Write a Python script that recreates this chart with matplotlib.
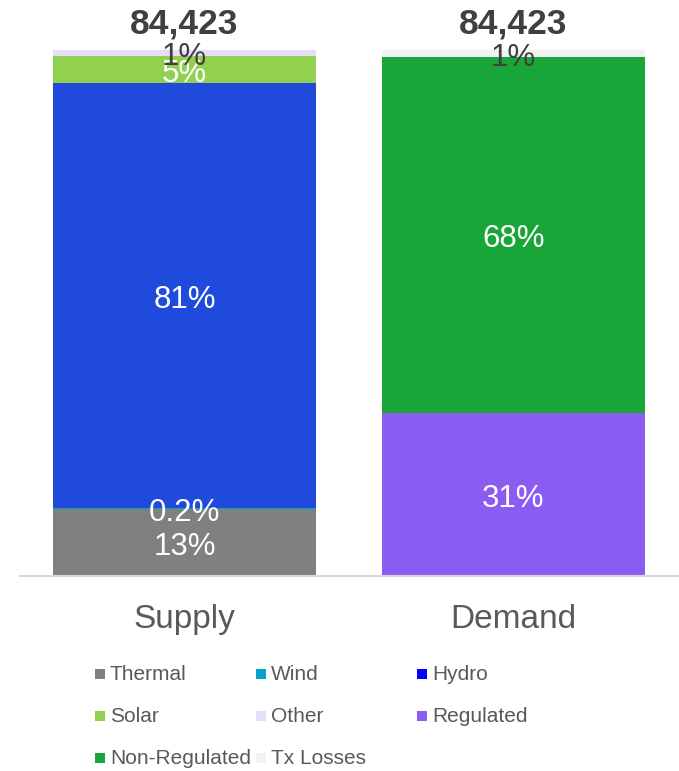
import matplotlib
matplotlib.use("Agg")
import matplotlib.pyplot as plt
from matplotlib.patches import Rectangle
import numpy as np

plt.rcParams['font.family'] = ['Liberation Sans', 'DejaVu Sans']

# data (MW-ish)
categories = ["Supply", "Demand"]
series_names = ["Thermal", "Wind", "Hydro", "Solar", "Other",
                "Regulated", "Non-Regulated", "Tx Losses"]
supply_values = [10753, 169, 68155, 4333, 1013, 0, 0, 0]
demand_values = [0, 0, 0, 0, 0, 26160, 57140, 1123]
pct_labels_supply = ["13%", "0.2%", "81%", "5%", "1%", "", "", ""]
pct_labels_demand = ["", "", "", "", "", "31%", "68%", "1%"]
totals = ["84,423", "84,423"]

bar_colors = ["#808080", "#0AA0C8", "#1F4ADB", "#92D050", "#E8DDF8",
              "#8B5CF1", "#17A637", "#F2F2F2"]
legend_colors = ["#808080", "#0AA0C8", "#0000FF", "#92D050", "#E8DDF8",
                 "#8B5CF1", "#17A637", "#F2F2F2"]
label_colors = ["white", "white", "white", "white", "#404040",
                "white", "white", "#404040"]

W, H = 679, 771
fig = plt.figure(figsize=(W / 100, H / 100), dpi=100)
ax = fig.add_axes([20 / W, (H - 576) / H, 658 / W, (576 - 10) / H])

x = np.arange(len(categories))
values = np.array([supply_values, demand_values]).T  # series x category
labels = [pct_labels_supply, pct_labels_demand]
bottoms = np.zeros(len(categories))
for i, name in enumerate(series_names):
    vals = values[i]
    ax.bar(x, vals, width=0.8, bottom=bottoms, color=bar_colors[i], linewidth=0)
    for j in range(len(categories)):
        if vals[j] > 0 and labels[j][i]:
            ax.annotate(labels[j][i], (x[j], bottoms[j] + vals[j] / 2),
                        xytext=(0, -3), textcoords="offset points",
                        ha="center", va="center", fontsize=22.5,
                        color=label_colors[i])
    bottoms += vals

for j in range(len(categories)):
    ax.annotate(totals[j], (x[j], bottoms[j]), xytext=(0, 7),
                textcoords="offset points", ha="center", va="bottom",
                fontsize=25.5, fontweight="bold", color="#404040")

ax.set_xlim(-0.5, 1.5)
ax.set_ylim(0, 84423 * 566 / 526)
ax.set_xticks(x)
ax.set_xticklabels(categories, fontsize=24, color="#595959")
ax.tick_params(axis="x", length=0, pad=20)
ax.set_yticks([])
for side in ["top", "right", "left"]:
    ax.spines[side].set_visible(False)
ax.spines["bottom"].set_color("#D9D9D9")
ax.spines["bottom"].set_linewidth(1.5)

# legend as a 3-column grid
for i, name in enumerate(series_names):
    col, row = i % 3, i // 3
    px = 95 + col * 161
    py = 674 + row * 42
    fig.add_artist(Rectangle((px / W, (H - py - 5) / H), 10 / W, 10 / H,
                             transform=fig.transFigure, color=legend_colors[i],
                             linewidth=0))
    fig.text((px + 15) / W, (H - py) / H, name, ha="left", va="center",
             fontsize=15, color="#595959")

fig.savefig("out.png", dpi=100)
